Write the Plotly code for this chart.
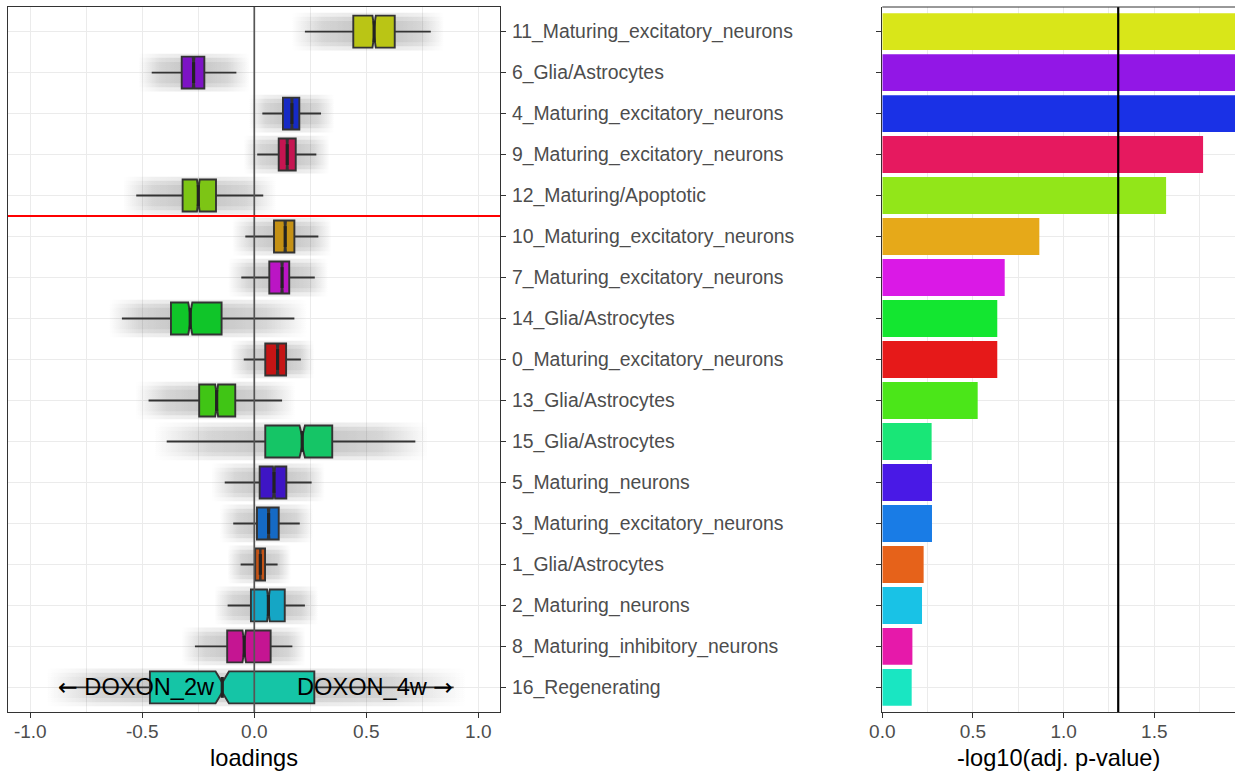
import plotly.graph_objects as go

# ---------------- data ----------------
categories = [
    "11_Maturing_excitatory_neurons", "6_Glia/Astrocytes", "4_Maturing_excitatory_neurons",
    "9_Maturing_excitatory_neurons", "12_Maturing/Apoptotic", "10_Maturing_excitatory_neurons",
    "7_Maturing_excitatory_neurons", "14_Glia/Astrocytes", "0_Maturing_excitatory_neurons",
    "13_Glia/Astrocytes", "15_Glia/Astrocytes", "5_Maturing_neurons",
    "3_Maturing_excitatory_neurons", "1_Glia/Astrocytes", "2_Maturing_neurons",
    "8_Maturing_inhibitory_neurons", "16_Regenerating",
]
lower_whisker = [0.226, -0.458, 0.036, 0.013, -0.527, -0.040, -0.058, -0.591, -0.047,
                 -0.472, -0.391, -0.132, -0.094, -0.061, -0.119, -0.265, -0.870]
q1 = [0.442, -0.324, 0.128, 0.109, -0.320, 0.088, 0.067, -0.372, 0.049,
      -0.246, 0.049, 0.024, 0.012, 0.004, -0.015, -0.121, -0.466]
median = [0.535, -0.271, 0.168, 0.147, -0.250, 0.138, 0.124, -0.286, 0.104,
          -0.168, 0.214, 0.088, 0.064, 0.027, 0.063, -0.045, -0.143]
q3 = [0.627, -0.223, 0.201, 0.185, -0.171, 0.179, 0.156, -0.146, 0.142,
      -0.085, 0.348, 0.143, 0.109, 0.048, 0.136, 0.073, 0.268]
upper_whisker = [0.788, -0.080, 0.298, 0.277, 0.040, 0.286, 0.270, 0.179, 0.208,
                 0.124, 0.719, 0.256, 0.203, 0.104, 0.226, 0.170, 0.890]
n_per_cluster = 1500  # approximate number of loadings per cluster (for notches)

neg_log10_padj = [2.90, 2.60, 2.30, 1.769, 1.565, 0.866, 0.675, 0.634, 0.634,
                  0.526, 0.272, 0.274, 0.274, 0.228, 0.219, 0.166, 0.162]
colors = ["#D9E619", "#9217E6", "#1A31E6", "#E6195F", "#92E619", "#E6A919", "#DA19E6",
          "#13E630", "#E61919", "#4BE619", "#19E677", "#4919E6", "#197CE6", "#E6621A",
          "#19C2E6", "#E619AA", "#19E6C2"]

x_ticks = [-1.0, -0.5, 0.0, 0.5, 1.0]
x_ticktext = ["-1.0", "-0.5", "0.0", "0.5", "1.0"]
x2_ticks = [0.0, 0.5, 1.0, 1.5]
x2_ticktext = ["0.0", "0.5", "1.0", "1.5"]
threshold = 1.30103  # -log10(0.05)
split_after = 4      # red line between row 4 and 5

# ---------------- styling ----------------
FONT = "Liberation Sans, Arial, Helvetica, sans-serif"
TICK_COL = "#4D4D4D"
GRID = "#EBEBEB"
LINE = "#333333"
BOX_W = 0.78
NOTCHW = 0.35


def darken(hexcol, f=0.86):
    h = hexcol.lstrip("#")
    r, g, b = (int(h[i:i + 2], 16) for i in (0, 2, 4))
    return "rgb(%d,%d,%d)" % (r * f, g * f, b * f)


pos = list(range(len(categories)))
yrange = [len(categories) - 0.4, -0.6]

fig = go.Figure()

# grey "cloud" of jittered points approximated with soft gradient bands (main axes, below boxes)
for i in pos:
    lo = lower_whisker[i] - 0.06
    hi = upper_whisker[i] + 0.06
    span = hi - lo
    p1 = (q1[i] - lo) / span
    p3 = (q3[i] - lo) / span
    for hh, a in ((0.46, 0.08), (0.36, 0.09), (0.26, 0.06)):
        fig.add_trace(go.Scatter(
            x=[lo, hi, hi, lo, lo], y=[i - hh, i - hh, i + hh, i + hh, i - hh],
            mode="lines", line=dict(width=0), fill="toself",
            fillgradient=dict(type="horizontal", colorscale=[
                [0, "rgba(0,0,0,0)"], [max(p1 * 0.5, 0.01), "rgba(0,0,0,%.3f)" % (a * 0.75)],
                [p1, "rgba(0,0,0,%.3f)" % a], [p3, "rgba(0,0,0,%.3f)" % a],
                [min(p3 + (1 - p3) * 0.5, 0.99), "rgba(0,0,0,%.3f)" % (a * 0.75)],
                [1, "rgba(0,0,0,0)"]]),
            hoverinfo="skip", showlegend=False, xaxis="x", yaxis="y"))

# notched boxes (overlay axes so they sit above the cloud)
for i in pos:
    iqr = q3[i] - q1[i]
    fig.add_trace(go.Box(
        y=[i], q1=[q1[i]], median=[median[i]], q3=[q3[i]],
        lowerfence=[lower_whisker[i]], upperfence=[upper_whisker[i]],
        notchspan=[1.58 * iqr / n_per_cluster ** 0.5],
        orientation="h", notched=True, notchwidth=NOTCHW, width=BOX_W,
        whiskerwidth=0, boxpoints=False,
        fillcolor=darken(colors[i]), line=dict(color=LINE, width=1.9),
        hoverinfo="skip", showlegend=False, xaxis="x3", yaxis="y3"))
    hw = BOX_W / 2 * (1 - NOTCHW)
    fig.add_trace(go.Scatter(
        x=[median[i], median[i]], y=[i - hw, i + hw], mode="lines",
        line=dict(color="#222222", width=3.2), hoverinfo="skip", showlegend=False,
        xaxis="x3", yaxis="y3"))

# bars
fig.add_trace(go.Bar(
    y=pos, x=neg_log10_padj, orientation="h", width=0.9,
    marker=dict(color=colors, line=dict(width=0)),
    hoverinfo="skip", showlegend=False, xaxis="x2", yaxis="y2"))

X1 = [8 / 1235, 500 / 1235]
X2 = [882.3 / 1235, 1.0]
YD = [(771 - 712) / 771, (771 - 7) / 771]
XR = [-1.0996, 1.097]

axis_common = dict(showgrid=True, gridcolor=GRID, gridwidth=1.1, zeroline=False,
                   showline=True, linecolor=LINE, linewidth=1, automargin=False,
                   ticks="outside", ticklen=5, tickcolor=LINE, tickwidth=1,
                   tickfont=dict(family=FONT, size=19, color=TICK_COL))

fig.update_layout(
    width=1235, height=771, autosize=False, margin=dict(l=0, r=0, t=0, b=0, pad=0),
    paper_bgcolor="white", plot_bgcolor="white", showlegend=False,
    font=dict(family=FONT, color="black"),
    xaxis=dict(domain=X1, range=XR, tickvals=x_ticks, ticktext=x_ticktext,
               mirror=True, anchor="y", ticklabelstandoff=-3,
               minor=dict(dtick=0.25, tick0=0, showgrid=True, gridcolor=GRID, gridwidth=1, ticks=""),
               title=dict(text="loadings", font=dict(family=FONT, size=23.6, color="black"), standoff=8),
               **axis_common),
    yaxis=dict(domain=YD, range=yrange, tickvals=pos, ticktext=categories, side="right",
               mirror=True, anchor="x", ticklabelstandoff=2,
               **{**axis_common, "tickfont": dict(family=FONT, size=19.4, color=TICK_COL)}),
    xaxis3=dict(overlaying="x", range=XR, visible=False, anchor="y3", automargin=False),
    yaxis3=dict(overlaying="y", range=yrange, visible=False, anchor="x3", automargin=False),
    xaxis2=dict(domain=X2, range=[0, 1.945], tickvals=x2_ticks, ticktext=x2_ticktext,
                anchor="y2", ticklabelstandoff=-3,
                minor=dict(dtick=0.25, tick0=0, showgrid=True, gridcolor=GRID, gridwidth=1, ticks=""),
                title=dict(text="-log10(adj. p-value)", font=dict(family=FONT, size=23.6, color="black"), standoff=8),
                **axis_common),
    yaxis2=dict(domain=YD, range=yrange, tickvals=pos, showticklabels=False, anchor="x2",
                **axis_common),
)

fig.add_shape(type="line", xref="x", yref="y domain", x0=0, x1=0, y0=0, y1=1,
              line=dict(color="#555555", width=1.7), layer="above")
fig.add_shape(type="line", xref="x domain", yref="y", x0=0, x1=1,
              y0=split_after + 0.5, y1=split_after + 0.5,
              line=dict(color="#FF0000", width=2), layer="above")
fig.add_shape(type="line", xref="x2", yref="y2 domain", x0=threshold, x1=threshold, y0=0, y1=1,
              line=dict(color="black", width=2.2), layer="above")
fig.add_shape(type="line", xref="x2 domain", yref="y2 domain", x0=0, x1=1, y0=1, y1=1,
              line=dict(color=LINE, width=1), layer="above")

last = len(categories) - 1
ARROW = '<span style="font-family:DejaVu Sans">%s</span>'
fig.add_annotation(x=-0.527, y=last, xref="x", yref="y", text=ARROW % "\u2190" + " DOXON_2w",
                   showarrow=False, xanchor="center", yanchor="middle",
                   font=dict(family=FONT, size=23.6, color="black"))
fig.add_annotation(x=0.54, y=last, xref="x", yref="y", text="DOXON_4w " + ARROW % "\u2192",
                   showarrow=False, xanchor="center", yanchor="middle",
                   font=dict(family=FONT, size=23.6, color="black"))

post = ("document.body.style.margin='0';document.body.style.overflow='hidden';"
        "var gd=document.getElementById('{plot_id}');gd.style.width='1235px';gd.style.height='771px';"
        "Plotly.relayout(gd,{width:1235,height:771});")
fig.write_html("out.html", post_script=post,
               config={"responsive": False, "displayModeBar": False})
